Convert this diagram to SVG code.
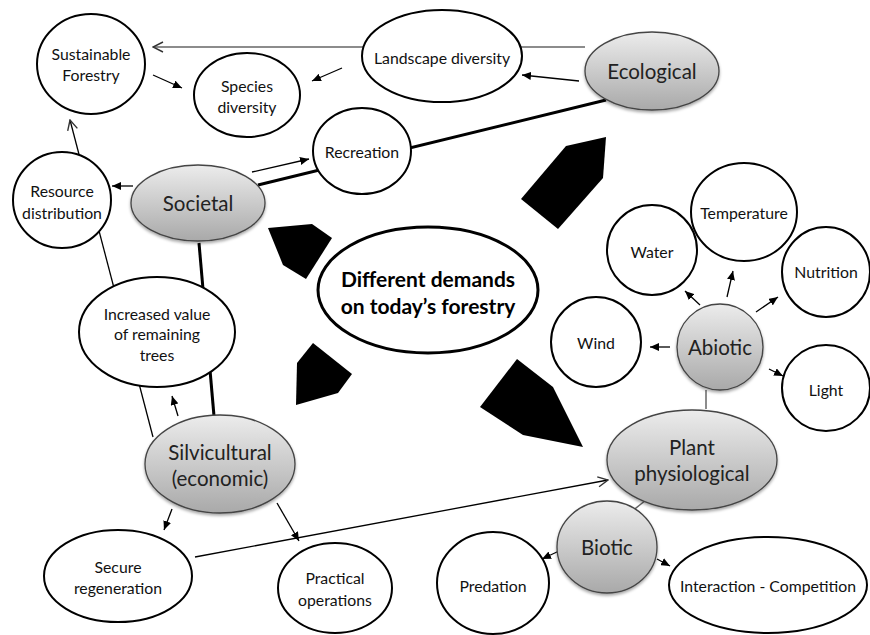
<svg xmlns="http://www.w3.org/2000/svg" width="870" height="635" viewBox="0 0 870 635">
  <defs>
    <linearGradient id="grayFill" x1="0" y1="0" x2="0" y2="1">
      <stop offset="0" stop-color="#ececec"/>
      <stop offset="1" stop-color="#a9a9a9"/>
    </linearGradient>
    <filter id="shadow" x="-20%" y="-20%" width="140%" height="150%">
      <feDropShadow dx="0" dy="2" stdDeviation="1.5" flood-color="#000" flood-opacity="0.35"/>
    </filter>
    <marker id="arrow" markerUnits="userSpaceOnUse" markerWidth="9" markerHeight="8" refX="9" refY="4" orient="auto">
      <path d="M0,0 L9,4 L0,8 z" fill="#000"/>
    </marker>
    <marker id="open" markerUnits="userSpaceOnUse" markerWidth="12" markerHeight="12" refX="11" refY="6" orient="auto">
      <path d="M1,1 L11,6 L1,11" fill="none" stroke="#333" stroke-width="1.4"/>
    </marker>
    <style>
      .node { fill: #fff; stroke: #000; stroke-width: 2; }
      .main { fill: url(#grayFill); stroke: #444; stroke-width: 1.3; filter: url(#shadow); }
      .centre { fill: #fff; stroke: #000; stroke-width: 3; }
      .label { font-family: Lato, "Open Sans", "Liberation Sans", sans-serif; font-size: 15.8px; fill: #111; text-anchor: middle; dominant-baseline: central; }
      .big { font-size: 20.5px; fill: #222; }
      .bold { font-size: 21px; font-weight: bold; fill: #000; }
      .link { stroke: #000; stroke-width: 1.3; fill: none; }
      .gray { stroke: #666; stroke-width: 1.5; fill: none; }
      .thick { stroke: #000; stroke-width: 3; fill: none; }
      .block { fill: #000; }
    </style>
  </defs>

  <!-- connectors -->
  <g id="connectors">
    <line class="gray" x1="585" y1="47" x2="153" y2="47" marker-end="url(#open)"/>
    <line class="thick" x1="258" y1="185" x2="606" y2="100"/>
    <line class="thick" x1="199" y1="243" x2="214" y2="416"/>
    <line class="link" x1="153" y1="437" x2="70" y2="120" marker-end="url(#open)"/>
    <line class="link" x1="195" y1="557" x2="608" y2="480" marker-end="url(#open)"/>
    <line class="link" x1="579" y1="81" x2="522" y2="75" marker-end="url(#arrow)"/>
    <line class="link" x1="342" y1="68" x2="312" y2="81" marker-end="url(#arrow)"/>
    <line class="link" x1="153" y1="75" x2="182" y2="88" marker-end="url(#arrow)"/>
    <line class="link" x1="252" y1="172" x2="309" y2="159" marker-end="url(#arrow)"/>
    <line class="link" x1="133" y1="186" x2="112" y2="186" marker-end="url(#arrow)"/>
    <line class="link" x1="178" y1="416" x2="172" y2="396" marker-end="url(#arrow)"/>
    <line class="link" x1="172" y1="509" x2="164" y2="530" marker-end="url(#arrow)"/>
    <line class="link" x1="277" y1="503" x2="299" y2="541" marker-end="url(#arrow)"/>
    <line class="gray" x1="631" y1="512" x2="646" y2="500"/>
    <line class="gray" x1="706" y1="390" x2="706" y2="409"/>
    <line class="link" x1="559" y1="551" x2="542" y2="559" marker-end="url(#arrow)"/>
    <line class="link" x1="657" y1="559" x2="670" y2="566" marker-end="url(#arrow)"/>
    <line class="link" x1="700" y1="305" x2="685" y2="291" marker-end="url(#arrow)"/>
    <line class="link" x1="727" y1="297" x2="733" y2="271" marker-end="url(#arrow)"/>
    <line class="link" x1="756" y1="312" x2="778" y2="297" marker-end="url(#arrow)"/>
    <line class="link" x1="670" y1="347" x2="650" y2="347" marker-end="url(#arrow)"/>
    <line class="link" x1="769" y1="369" x2="783" y2="376" marker-end="url(#arrow)"/>
  </g>

  <!-- block arrows pointing at the central theme -->
  <g id="blocks">
    <polygon class="block" points="268,228 312,224 332,238 306,279 283,265"/>
    <polygon class="block" points="313,343 352,374 338,393 296,405 297,363"/>
    <polygon class="block" points="566,146 606,137 603,178 558,229 521,199"/>
    <polygon class="block" points="517,359 553,387 583,447 523,435 480,407"/>
  </g>

  <g id="centre">
    <ellipse class="centre" cx="428" cy="290" rx="110" ry="63"/>
    <text class="label bold" x="428" y="278">Different demands</text>
    <text class="label bold" x="428" y="305">on today’s forestry</text>
  </g>

  <g id="sustainable-forestry">
    <ellipse class="node" cx="91" cy="64" rx="54" ry="50"/>
    <text class="label" x="91" y="53">Sustainable</text>
    <text class="label" x="91" y="74">Forestry</text>
  </g>
  <g id="species-diversity">
    <ellipse class="node" cx="247" cy="95" rx="53" ry="42"/>
    <text class="label" x="247" y="85">Species</text>
    <text class="label" x="247" y="106">diversity</text>
  </g>
  <g id="landscape-diversity">
    <ellipse class="node" cx="442" cy="56" rx="80" ry="46"/>
    <text class="label" x="442" y="57">Landscape diversity</text>
  </g>
  <g id="ecological">
    <ellipse class="main" cx="652" cy="71" rx="67" ry="39"/>
    <text class="label big" x="652" y="71">Ecological</text>
  </g>
  <g id="recreation">
    <ellipse class="node" cx="362" cy="151" rx="49" ry="43"/>
    <text class="label" x="362" y="151">Recreation</text>
  </g>
  <g id="societal">
    <ellipse class="main" cx="198" cy="203" rx="67" ry="38"/>
    <text class="label big" x="198" y="203">Societal</text>
  </g>
  <g id="resource-distribution">
    <ellipse class="node" cx="62" cy="200" rx="49" ry="48"/>
    <text class="label" x="62" y="190">Resource</text>
    <text class="label" x="62" y="212">distribution</text>
  </g>
  <g id="increased-value">
    <ellipse class="node" cx="157" cy="332" rx="78" ry="55"/>
    <text class="label" x="157" y="313">Increased value</text>
    <text class="label" x="157" y="333">of remaining</text>
    <text class="label" x="157" y="354">trees</text>
  </g>
  <g id="silvicultural">
    <ellipse class="main" cx="220" cy="464" rx="75" ry="49"/>
    <text class="label big" x="220" y="452">Silvicultural</text>
    <text class="label big" x="220" y="478">(economic)</text>
  </g>
  <g id="secure-regeneration">
    <ellipse class="node" cx="118" cy="576" rx="74" ry="46"/>
    <text class="label" x="118" y="566">Secure</text>
    <text class="label" x="118" y="587">regeneration</text>
  </g>
  <g id="practical-operations">
    <ellipse class="node" cx="335" cy="588" rx="57" ry="45"/>
    <text class="label" x="335" y="577">Practical</text>
    <text class="label" x="335" y="599">operations</text>
  </g>
  <g id="plant-physiological">
    <ellipse class="main" cx="692" cy="460" rx="85" ry="50"/>
    <text class="label big" x="692" y="447">Plant</text>
    <text class="label big" x="692" y="473">physiological</text>
  </g>
  <g id="biotic">
    <ellipse class="main" cx="607" cy="547" rx="50" ry="46"/>
    <text class="label big" x="607" y="547">Biotic</text>
  </g>
  <g id="predation">
    <ellipse class="node" cx="493" cy="583" rx="56" ry="51"/>
    <text class="label" x="493" y="585">Predation</text>
  </g>
  <g id="interaction-competition">
    <ellipse class="node" cx="768" cy="585" rx="99" ry="48"/>
    <text class="label" x="768" y="585">Interaction - Competition</text>
  </g>
  <g id="abiotic">
    <ellipse class="main" cx="720" cy="347" rx="43" ry="43"/>
    <text class="label big" x="720" y="347">Abiotic</text>
  </g>
  <g id="water">
    <ellipse class="node" cx="652" cy="250" rx="45" ry="45"/>
    <text class="label" x="652" y="251">Water</text>
  </g>
  <g id="temperature">
    <ellipse class="node" cx="744" cy="212" rx="53" ry="49"/>
    <text class="label" x="744" y="212">Temperature</text>
  </g>
  <g id="nutrition">
    <ellipse class="node" cx="826" cy="272" rx="44" ry="45"/>
    <text class="label" x="826" y="271">Nutrition</text>
  </g>
  <g id="wind">
    <ellipse class="node" cx="596" cy="342" rx="45" ry="45"/>
    <text class="label" x="596" y="342">Wind</text>
  </g>
  <g id="light">
    <ellipse class="node" cx="826" cy="388" rx="44" ry="43"/>
    <text class="label" x="826" y="389">Light</text>
  </g>
</svg>
